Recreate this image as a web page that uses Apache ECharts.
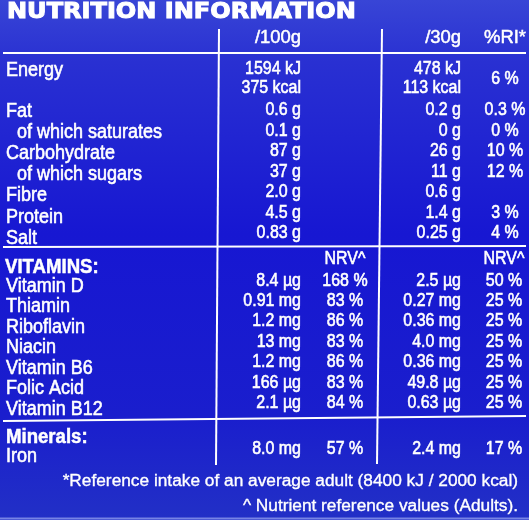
<!DOCTYPE html>
<html>
<head>
<meta charset="utf-8">
<script src="https://cdn.jsdelivr.net/npm/echarts@6/dist/echarts.min.js"></script>
<style>
html,body{margin:0;padding:0;background:#1c22c8;}
#chart{width:529px;height:520px;}
</style>
</head>
<body>
<div id="chart"></div>
<script>
// ---------- DATA ----------
const titleText = 'NUTRITION INFORMATION';
const columnHeaders = ['/100g', '/30g', '%RI*'];
const nrvHeader = 'NRV^';

const energyLabel = 'Energy';
const energyPer100g = ['1594 kJ', '375 kcal'];
const energyPer30g = ['478 kJ', '113 kcal'];
const energyRI = '6 %';

const nutrients = ['Fat', 'of which saturates', 'Carbohydrate', 'of which sugars', 'Fibre', 'Protein', 'Salt'];
const nutrientPer100g = ['0.6 g', '0.1 g', '87 g', '37 g', '2.0 g', '4.5 g', '0.83 g'];
const nutrientPer30g = ['0.2 g', '0 g', '26 g', '11 g', '0.6 g', '1.4 g', '0.25 g'];
const nutrientRI = ['0.3 %', '0 %', '10 %', '12 %', '', '3 %', '4 %'];

const vitaminsHeading = 'VITAMINS:';
const vitamins = ['Vitamin D', 'Thiamin', 'Riboflavin', 'Niacin', 'Vitamin B6', 'Folic Acid', 'Vitamin B12'];
const vitaminPer100g = ['8.4 µg', '0.91 mg', '1.2 mg', '13 mg', '1.2 mg', '166 µg', '2.1 µg'];
const vitaminNRV100g = ['168 %', '83 %', '86 %', '83 %', '86 %', '83 %', '84 %'];
const vitaminPer30g = ['2.5 µg', '0.27 mg', '0.36 mg', '4.0 mg', '0.36 mg', '49.8 µg', '0.63 µg'];
const vitaminNRV30g = ['50 %', '25 %', '25 %', '25 %', '25 %', '25 %', '25 %'];

const mineralsHeading = 'Minerals:';
const minerals = ['Iron'];
const mineralPer100g = ['8.0 mg'];
const mineralNRV100g = ['57 %'];
const mineralPer30g = ['2.4 mg'];
const mineralNRV30g = ['17 %'];

const footnotes = [
  '*Reference intake of an average adult (8400 kJ / 2000 kcal)',
  '^ Nutrient reference values (Adults).'
];

// ---------- LAYOUT (positions & styles) ----------
const L = {
  labelX: 6, indentX: 17,
  col100: 301, nrv100: 345, col30: 461, col30nrv: 504, ri: 505,
  headerY: 38,
  energyLabelY: 70, energyValY: [69, 88], energyRIY: 79,
  nutLabelY0: 111, nutLabelStep: 21.2, nutValY0: 110, nutValStep: 20.5,
  nrvHeaderY: 259,
  vitHeadY: 267, vitLabelY0: 286, vitLabelStep: 20.5, vitValY0: 280.5, vitValStep: 20.4,
  minHeadY: 437, minLabelY0: 456, minValY0: 449,
  footY: [481, 506], footRight: 518,
  titleX: 7, titleY: 13
};
const FONT = '"Liberation Sans", Arial, sans-serif';
const S = {
  title: { font: 'bold 21px "DejaVu Sans", sans-serif', sx: 1.145, sw: 1.0 },
  label: { font: '20px ' + FONT, sx: 0.9, sw: 0.6 },
  bold: { font: 'bold 20px ' + FONT, sx: 0.93, sw: 0.5 },
  value: { font: '18.8px ' + FONT, sx: 0.85, sw: 0.6 },
  header: { font: '18.8px ' + FONT, sx: 0.98, sw: 0.5 },
  foot: { font: '17.3px ' + FONT, sx: 1.0, sw: 0.35 }
};

// ---------- BUILD CELLS ----------
const cells = [];
function cell(text, x, y, st, align) {
  if (text === '') return;
  cells.push({ text: text, x: x, y: y, font: st.font, sx: st.sx, sw: st.sw, align: align || 'left' });
}
cell(titleText, L.titleX, L.titleY, S.title, 'left');
cell(columnHeaders[0], L.col100, L.headerY, S.header, 'right');
cell(columnHeaders[1], L.col30, L.headerY, S.header, 'right');
cell(columnHeaders[2], L.ri, L.headerY, S.header, 'center');

cell(energyLabel, L.labelX, L.energyLabelY, S.label);
energyPer100g.forEach((t, i) => cell(t, L.col100, L.energyValY[i], S.value, 'right'));
energyPer30g.forEach((t, i) => cell(t, L.col30, L.energyValY[i], S.value, 'right'));
cell(energyRI, L.ri, L.energyRIY, S.value, 'center');

nutrients.forEach((n, i) => {
  const indent = n.indexOf('of which') === 0;
  cell(n, indent ? L.indentX : L.labelX, L.nutLabelY0 + i * L.nutLabelStep, S.label);
  const vy = L.nutValY0 + i * L.nutValStep;
  cell(nutrientPer100g[i], L.col100, vy, S.value, 'right');
  cell(nutrientPer30g[i], L.col30, vy, S.value, 'right');
  cell(nutrientRI[i], L.ri, vy, S.value, 'center');
});

cell(nrvHeader, L.nrv100, L.nrvHeaderY, S.value, 'center');
cell(nrvHeader, L.col30nrv, L.nrvHeaderY, S.value, 'center');
cell(vitaminsHeading, L.labelX - 1, L.vitHeadY, S.bold);
vitamins.forEach((n, i) => {
  cell(n, L.labelX, L.vitLabelY0 + i * L.vitLabelStep, S.label);
  const vy = L.vitValY0 + i * L.vitValStep;
  cell(vitaminPer100g[i], L.col100, vy, S.value, 'right');
  cell(vitaminNRV100g[i], L.nrv100, vy, S.value, 'center');
  cell(vitaminPer30g[i], L.col30, vy, S.value, 'right');
  cell(vitaminNRV30g[i], L.col30nrv, vy, S.value, 'center');
});

cell(mineralsHeading, L.labelX, L.minHeadY, S.bold);
minerals.forEach((n, i) => {
  cell(n, L.labelX, L.minLabelY0 + i * 20, S.label);
  const vy = L.minValY0 + i * 20;
  cell(mineralPer100g[i], L.col100, vy, S.value, 'right');
  cell(mineralNRV100g[i], L.nrv100, vy, S.value, 'center');
  cell(mineralPer30g[i], L.col30, vy, S.value, 'right');
  cell(mineralNRV30g[i], L.col30nrv, vy, S.value, 'center');
});

footnotes.forEach((t, i) => cell(t, L.footRight, L.footY[i], S.foot, 'right'));

// rule lines [x1, y1, x2, y2, width, color]
const rules = [
  [3, 53, 526, 53, 2, '#ffffff'],
  [3, 247, 526, 246, 2, '#ffffff'],
  [3, 421, 526, 416, 2, '#ffffff'],
  [219, 29, 216, 465, 2, '#ffffff'],
  [382, 29, 377, 464, 2, '#ffffff'],
  [0, 518.5, 529, 518.5, 2, 'rgba(190,200,255,0.55)']
];

// ---------- CHART ----------
const chart = echarts.init(document.getElementById('chart'), null, { renderer: 'canvas' });
chart.setOption({
  animation: false,
  backgroundColor: new echarts.graphic.LinearGradient(0, 0, 0, 1, [
    { offset: 0, color: '#3845d6' },
    { offset: 0.12, color: '#2930d2' },
    { offset: 0.45, color: '#1717d2' },
    { offset: 0.8, color: '#1a1ecd' },
    { offset: 1, color: '#2230c6' }
  ]),
  grid: { left: 0, right: 0, top: 0, bottom: 0 },
  xAxis: { type: 'value', min: 0, max: 529, show: false },
  yAxis: { type: 'value', min: 0, max: 520, inverse: true, show: false },
  series: [
    {
      type: 'custom',
      silent: true,
      data: rules.map(r => [r[0], r[1], r[2], r[3]]),
      renderItem: function (params, api) {
        const r = rules[params.dataIndex];
        const p1 = api.coord([api.value(0), api.value(1)]);
        const p2 = api.coord([api.value(2), api.value(3)]);
        return {
          type: 'line',
          shape: { x1: p1[0], y1: p1[1], x2: p2[0], y2: p2[1] },
          style: { stroke: r[5], lineWidth: r[4] }
        };
      }
    },
    {
      type: 'custom',
      silent: true,
      data: cells.map(c => [c.x, c.y]),
      renderItem: function (params, api) {
        const c = cells[params.dataIndex];
        const p = api.coord([api.value(0), api.value(1)]);
        return {
          type: 'text',
          x: p[0], y: p[1],
          scaleX: c.sx,
          style: {
            text: c.text,
            fill: '#ffffff',
            stroke: '#ffffff',
            lineWidth: c.sw,
            font: c.font,
            align: c.align,
            verticalAlign: 'middle'
          }
        };
      }
    }
  ]
});
</script>
</body>
</html>
